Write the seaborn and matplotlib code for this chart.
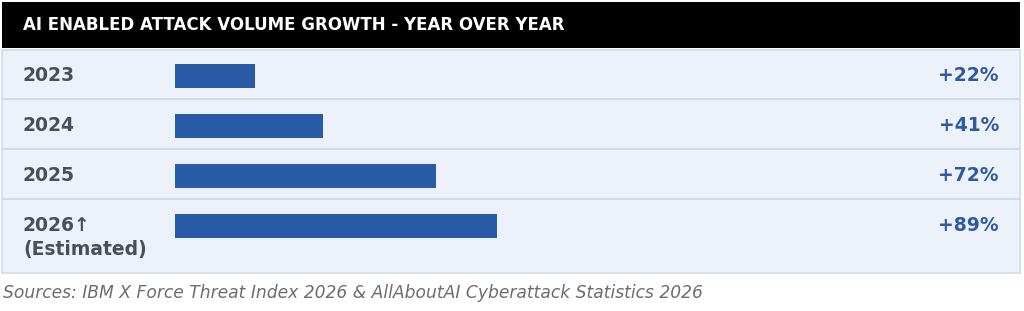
import numpy as np
import pandas as pd
import seaborn as sns
import matplotlib.pyplot as plt
from matplotlib.patches import Rectangle

# chart data
years = ["2023", "2024", "2025", "2026\u2191\n(Estimated)"]
growth = [22, 41, 72, 89]
growth_labels = ["+22%", "+41%", "+72%", "+89%"]
title = "AI ENABLED ATTACK VOLUME GROWTH - YEAR OVER YEAR"
source = "Sources: IBM X Force Threat Index 2026 & AllAboutAI Cyberattack Statistics 2026"

df = pd.DataFrame({"year": years, "growth": growth})

sns.set_theme(style="white")
plt.rcParams["font.family"] = ["DejaVu Sans"]

W, H = 1024, 311
fig = plt.figure(figsize=(W / 100, H / 100), dpi=100)
fig.patch.set_facecolor("white")

# table area in pixels
left_px, right_px, top_px, bot_px = 2, 1020, 50, 273
bar_x0 = 175
px_per_pct = 3.62

ax = fig.add_axes([left_px / W, 1 - bot_px / H, (right_px - left_px) / W, (bot_px - top_px) / H])
ax.set_facecolor("#edf2fa")

sns.barplot(data=df, x="growth", y="year", orient="h", color="#2a5ba7",
            width=0.48, saturation=1, linewidth=0, ax=ax)

ax.set_xlim(-(bar_x0 - left_px) / px_per_pct, (right_px - bar_x0) / px_per_pct)
ax.set_ylim(3.95, -0.52)
ax.set_xticks([])
ax.set_yticks([])
ax.set_xlabel("")
ax.set_ylabel("")
for s in ax.spines.values():
    s.set_color("#d3dbea")
    s.set_linewidth(1.2)

# row separators
for yy in [0.47, 1.47, 2.47]:
    ax.axhline(yy, color="#d3dbea", lw=1.5)

tr = ax.get_yaxis_transform()
lab_x = (23 - left_px) / (right_px - left_px)
val_x = (999 - left_px) / (right_px - left_px)
for i, (lab, val) in enumerate(zip(years, growth_labels)):
    lines = lab.split("\n")
    ax.text(lab_x, i, lines[0], transform=tr, ha="left", va="center",
            fontsize=13.5, fontweight="bold", color="#4a4e58")
    for k, extra in enumerate(lines[1:], start=1):
        ax.text(lab_x, i + 0.47 * k, extra, transform=tr, ha="left", va="center",
                fontsize=13.5, fontweight="bold", color="#4a4e58")
    ax.text(val_x, i, val, transform=tr, ha="right", va="center",
            fontsize=13.5, fontweight="bold", color="#2d5aa3")

# header band
fig.patches.append(Rectangle((left_px / W, 1 - 48 / H), (right_px - left_px) / W, 46 / H,
                             transform=fig.transFigure, facecolor="black", edgecolor="none"))
fig.text(23 / W, 1 - 25 / H, title, ha="left", va="center", fontsize=12,
         fontweight="bold", color="white")

# source note
fig.text(3 / W, 1 - 293 / H, source, ha="left", va="center", fontsize=12.3,
         style="italic", color="#6d6d6d")

fig.savefig("out.png", dpi=100)
